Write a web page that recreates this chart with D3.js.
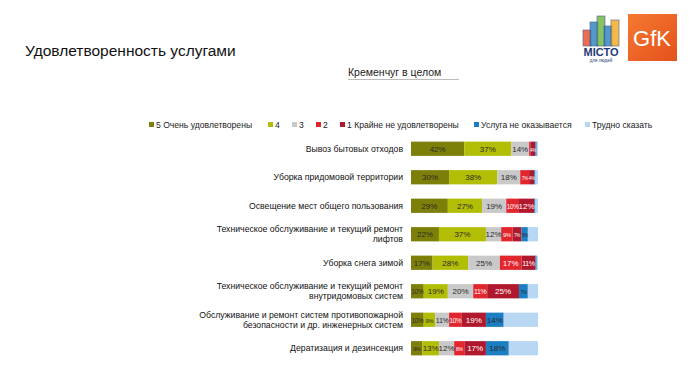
<!DOCTYPE html>
<html>
<head>
<meta charset="utf-8">
<script src="https://cdn.jsdelivr.net/npm/d3@7"></script>
<style>
  body { margin: 0; background: #fff; }
  svg { display: block; font-family: "Liberation Sans", Arial, sans-serif; }
</style>
</head>
<body>
<svg id="chart" width="698" height="376"></svg>
<script>
// categories (services), two-line labels split by "|"
const categories = [
    "Вывоз бытовых отходов",
    "Уборка придомовой территории",
    "Освещение мест общего пользования",
    "Техническое обслуживание и текущий ремонт|лифтов",
    "Уборка снега зимой",
    "Техническое обслуживание и текущий ремонт|внутридомовых систем",
    "Обслуживание и ремонт систем противопожарной|безопасности и др.  инженерных систем",
    "Дератизация  и дезинсекция"
];

// legend / series names
const seriesNames = ["5 Очень удовлетворены", "4", "3", "2", "1 Крайне не удовлетворены", "Услуга не оказывается", "Трудно сказать"];

// series values (%), one array per answer, in category order
const very = [42, 30, 29, 22, 17, 10, 10, 9];
const four = [37, 38, 27, 37, 28, 19, 9, 13];
const three = [14, 18, 19, 12, 25, 20, 11, 12];
const two = [1, 7, 10, 9, 17, 11, 10, 8];
const one = [4, 4, 12, 7, 11, 25, 19, 17];
const notProvided = [1, 1, 1, 5, 1, 7, 14, 18];
const hardToSay = [1, 2, 2, 8, 1, 8, 27, 23];

const colors = ["#7c7f08", "#b2bd05", "#c9c9c9", "#e2262d", "#b0192d", "#1c7ec2", "#b8d7f3"];
const labelColors = ["#2a2a2a", "#2a2a2a", "#2a2a2a", "#fff", "#fff", "#2a2a2a", "#2a2a2a"];

const allSeries = [very, four, three, two, one, notProvided, hardToSay];
const rows = categories.map((c, i) => {
    const r = { cat: c };
    seriesNames.forEach((s, j) => r[s] = allSeries[j][i]);
    return r;
});

const svg = d3.select("#chart");

// title
svg.append("text")
    .attr("x", 25).attr("y", 56)
    .attr("font-size", 15.5)
    .attr("fill", "#111")
    .text("Удовлетворенность услугами");

// subtitle with underline
svg.append("text")
    .attr("x", 348).attr("y", 76)
    .attr("font-size", 10.5)
    .attr("fill", "#222")
    .text("Кременчуг в целом");
svg.append("line")
    .attr("x1", 348).attr("x2", 459)
    .attr("y1", 79.5).attr("y2", 79.5)
    .attr("stroke", "#aaa").attr("stroke-width", 0.8);

// scales
const x = d3.scaleLinear().domain([0, 100]).range([411, 538]);
const y = d3.scaleBand().domain(categories).range([134.5, 362.5]).paddingInner(0.5).paddingOuter(0.25);

const stacked = d3.stack().keys(seriesNames)(rows);

// bars
const layers = svg.append("g").selectAll("g")
    .data(stacked)
    .join("g")
    .attr("fill", (d, i) => colors[i]);

layers.selectAll("rect")
    .data(d => d)
    .join("rect")
    .attr("x", d => x(d[0]))
    .attr("y", d => y(d.data.cat))
    .attr("width", d => x(d[1]) - x(d[0]))
    .attr("height", y.bandwidth());

// segment labels, narrower segments get a smaller font
stacked.forEach((layer, i) => {
    if (i > 5) return;
    svg.append("g").selectAll("text")
        .data(layer.filter(d => (d[1] - d[0]) >= 4))
        .join("text")
        .attr("x", d => (x(d[0]) + x(d[1])) / 2)
        .attr("y", d => y(d.data.cat) + y.bandwidth() / 2 + 3)
        .attr("text-anchor", "middle")
        .attr("font-size", d => {
            const w = x(d[1]) - x(d[0]);
            return w >= 15 ? 8 : Math.max(4.5, w / 2);
        })
        .attr("letter-spacing", d => (x(d[1]) - x(d[0])) < 15 ? -0.3 : 0)
        .attr("fill", labelColors[i])
        .text(d => (d[1] - d[0]) + "%");
});

// category labels
const catG = svg.append("g").selectAll("text")
    .data(categories)
    .join("text")
    .attr("text-anchor", "end")
    .attr("font-size", 8.7)
    .attr("fill", "#111")
    .attr("transform", d => {
        const lines = d.split("|").length;
        return `translate(403, ${y(d) + y.bandwidth() / 2 + 3 - (lines - 1) * 5})`;
    });
catG.selectAll("tspan")
    .data(d => d.split("|"))
    .join("tspan")
    .attr("x", 0)
    .attr("dy", (d, i) => i === 0 ? 0 : 10)
    .text(d => d);

// legend
const legendX = [149, 268, 292, 316, 340, 474, 585];
const legend = svg.append("g").selectAll("g")
    .data(seriesNames)
    .join("g")
    .attr("transform", (d, i) => `translate(${legendX[i]}, 128)`);
legend.append("rect")
    .attr("x", 0).attr("y", -6)
    .attr("width", 5).attr("height", 5)
    .attr("fill", (d, i) => colors[i]);
legend.append("text")
    .attr("x", 7).attr("y", 0)
    .attr("font-size", 8.6)
    .attr("fill", "#222")
    .text(d => d);

// logos (simple sketches)
const logo = svg.append("g");
const bld = [[583, 30, 8, 16, "#e84a27"], [590, 22, 8, 24, "#2b7fc3"], [597, 16, 8, 30, "#6cb33f"],
             [604, 26, 8, 20, "#2b7fc3"], [611, 20, 8, 26, "#f3a81d"]];
bld.forEach(b => {
    logo.append("rect").attr("x", b[0]).attr("y", b[1]).attr("width", b[2]).attr("height", b[3])
        .attr("fill", b[4]).attr("opacity", 0.8)
        .attr("stroke", "#233a78").attr("stroke-width", 0.6);
});
logo.append("text").attr("x", 601).attr("y", 56).attr("text-anchor", "middle")
    .attr("font-size", 11).attr("font-weight", "bold").attr("fill", "#233a78").text("МІСТО");
logo.append("text").attr("x", 601).attr("y", 62).attr("text-anchor", "middle")
    .attr("font-size", 4.5).attr("fill", "#233a78").text("для людей");

const defs = svg.append("defs");
const grad = defs.append("linearGradient").attr("id", "gfk")
    .attr("x1", "0%").attr("y1", "0%").attr("x2", "100%").attr("y2", "100%");
grad.append("stop").attr("offset", "0%").attr("stop-color", "#f47a30");
grad.append("stop").attr("offset", "100%").attr("stop-color", "#e5501d");
logo.append("rect").attr("x", 628).attr("y", 14).attr("width", 49).attr("height", 47).attr("fill", "url(#gfk)");
logo.append("text").attr("x", 652).attr("y", 46).attr("text-anchor", "middle")
    .attr("font-size", 22).attr("fill", "#fff").text("GfK");
</script>
</body>
</html>
